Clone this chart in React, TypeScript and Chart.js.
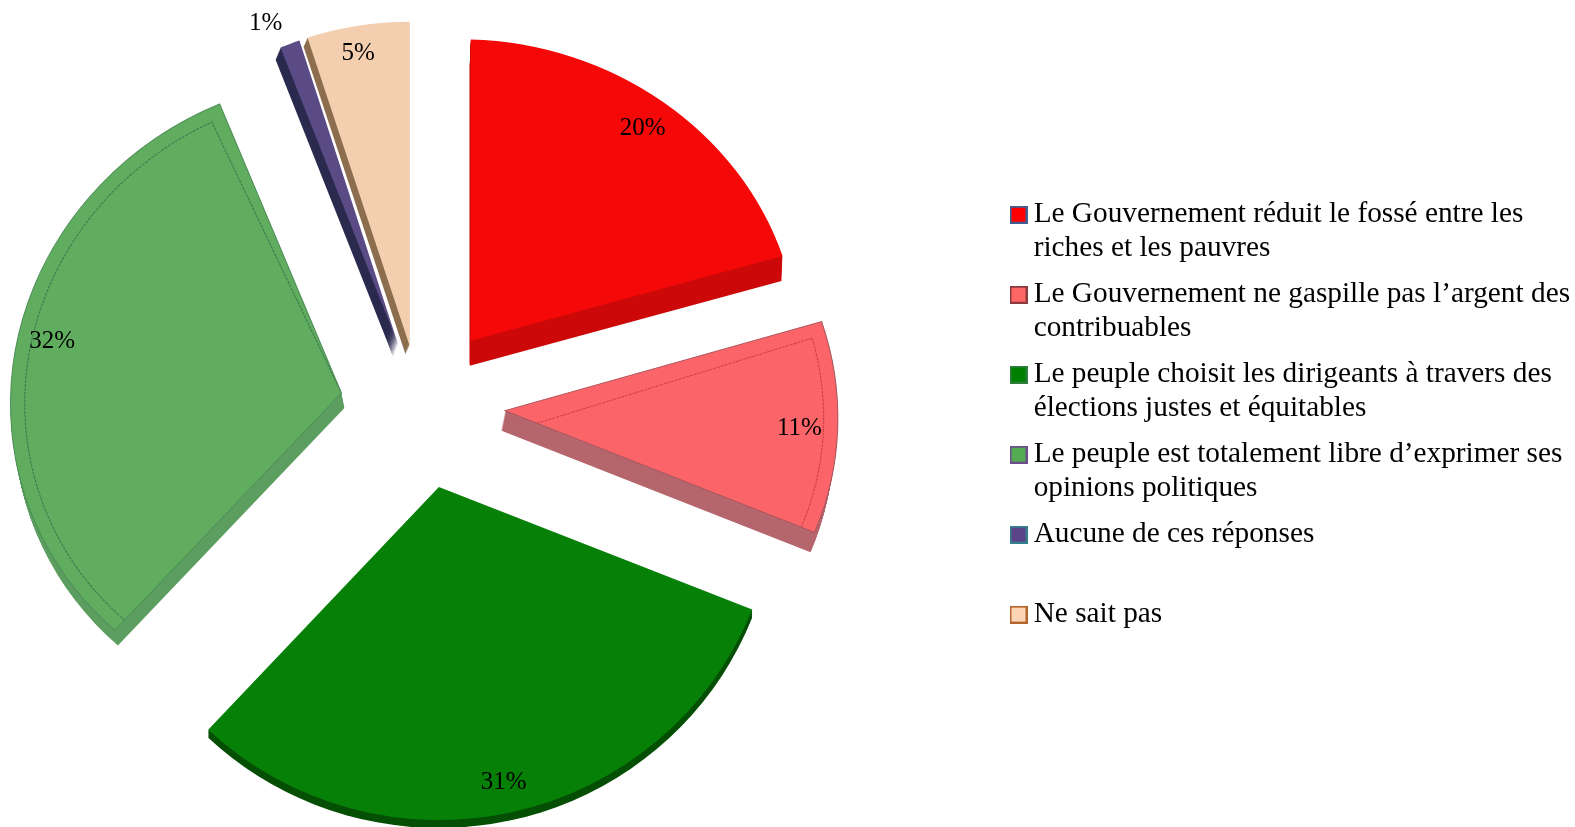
import React, { useEffect, useRef } from "react";
import { ArcElement, Chart, registerables } from "chart.js";

Chart.register(...registerables);

const categories: string[][] = [
  ["Le Gouvernement réduit le fossé entre les", "riches et les pauvres"],
  ["Le Gouvernement ne gaspille pas l’argent des", "contribuables"],
  ["Le peuple choisit les dirigeants à travers des", "élections justes et équitables"],
  ["Le peuple est totalement libre d’exprimer ses", "opinions politiques"],
  ["Aucune de ces réponses", ""],
  ["Ne sait pas", ""],
];
const values = [20, 11, 31, 32, 1, 5];
const percentLabels = ["20%", "11%", "31%", "32%", "1%", "5%"];

const faceColors = ["#F40808", "#FB6468", "#078007", "#60AD60", "#5A4A85", "#F3CFB0"];
const sideColors = ["#CC0808", "#B5666C", "#054F05", "#5C9E5F", "#2A2A4E", "#8C6E4E"];
const legendFill = ["#FF0000", "#FF6666", "#008000", "#54AB54", "#5B4588", "#FBD5B5"];
const legendEdge = ["#3F5F95", "#8C3A3E", "#2D7F3B", "#6B4E8B", "#357E8E", "#B3652D"];
const explode = [83, 83, 82, 80, 67, 60];
const sliceRadius = [314, 328, 333, 326, 320, 324];
const nudgeX = [3, 3, 2, 1, 2, 0];
const nudgeY = [3, 3, 2, 3, 3, 0];
const perspectiveX = [1.044, 1.015, 1.012, 1.015, 1, 1.02];
const perspectiveY = [0.96, 0.95, 1, 0.967, 1, 1];
const perspectiveShear = [0.028, 0.023, 0, -0.034, 0, 0];
const extrudeX = [-1, -4, 0, 3, -5, -4];
const extrudeY = [25, 20, 8, 15, 12, 9];
const insetBand = [0, 14, 0, 14, 0, 0];
const labelAngle = [39, 93.4, 167.6, 280.2, 337.6, 350];
const labelRadius = [273, 295, 302, 294, 348, 297];
const pieCenterX = 419;
const pieCenterY = 405;

const deg = Math.PI / 180;

function applyPerspective(ctx: CanvasRenderingContext2D, a: any, i: number) {
  ctx.translate(a.x, a.y);
  ctx.transform(perspectiveX[i], perspectiveShear[i], 0, perspectiveY[i], 0, 0);
  ctx.translate(-a.x, -a.y);
}

const piePlugin = {
  id: "pie3d",
  afterDatasetsUpdate(chart: any) {
    chart.getDatasetMeta(0).data.forEach((a: any, i: number) => {
      const mid = (a.startAngle + a.endAngle) / 2;
      a.x = pieCenterX + Math.cos(mid) * explode[i] + nudgeX[i];
      a.y = pieCenterY + Math.sin(mid) * explode[i] + nudgeY[i];
      a.outerRadius = sliceRadius[i];
      a.draw = (ctx: CanvasRenderingContext2D) => {
        ctx.save();
        applyPerspective(ctx, a, i);
        ArcElement.prototype.draw.call(a, ctx);
        ctx.restore();
      };
    });
  },
  afterLayout(chart: any) {
    const l = chart.legend;
    if (l) {
      l.left = 1005;
      l.top += 20;
      l.bottom += 20;
    }
  },
  beforeDatasetsDraw(chart: any) {
    const ctx = chart.ctx;
    chart.getDatasetMeta(0).data.forEach((a: any, i: number) => {
      const n = Math.max(Math.abs(extrudeX[i]), Math.abs(extrudeY[i]));
      ctx.fillStyle = sideColors[i];
      for (let s = 1; s <= n; s++) {
        ctx.save();
        ctx.translate((extrudeX[i] * s) / n, (extrudeY[i] * s) / n);
        applyPerspective(ctx, a, i);
        ctx.beginPath();
        ctx.moveTo(a.x, a.y);
        ctx.arc(a.x, a.y, a.outerRadius, a.startAngle, a.endAngle);
        ctx.closePath();
        ctx.fill();
        ctx.restore();
      }
    });
  },
  afterDatasetsDraw(chart: any) {
    const ctx = chart.ctx;
    chart.getDatasetMeta(0).data.forEach((a: any, i: number) => {
      if (insetBand[i] > 0) {
        const b = insetBand[i];
        const r = a.outerRadius - b;
        const da = Math.asin(Math.min(1, b / r));
        ctx.save();
        applyPerspective(ctx, a, i);
        ctx.strokeStyle = i === 1 ? "rgba(190,50,60,0.75)" : "rgba(50,100,70,0.75)";
        ctx.lineWidth = 1;
        ctx.setLineDash([3, 1]);
        ctx.beginPath();
        if (i === 1) {
          const s = a.startAngle + da;
          ctx.moveTo(a.x + Math.cos(a.endAngle) * 34, a.y + Math.sin(a.endAngle) * 34);
          ctx.lineTo(a.x + Math.cos(s) * r, a.y + Math.sin(s) * r);
          ctx.arc(a.x, a.y, r, s, a.endAngle);
        } else {
          ctx.arc(a.x, a.y, r, a.startAngle, a.endAngle - da);
          ctx.lineTo(a.x, a.y);
        }
        ctx.stroke();
        ctx.setLineDash([]);
        ctx.strokeStyle = i === 1 ? "#A8565C" : "#4F8F58";
        ctx.beginPath();
        ctx.moveTo(a.x, a.y);
        ctx.arc(a.x, a.y, a.outerRadius, a.startAngle, a.endAngle);
        ctx.closePath();
        ctx.stroke();
        ctx.restore();
      }
      const t = labelAngle[i] * deg - Math.PI / 2;
      ctx.save();
      ctx.font = '25px "Liberation Serif"';
      ctx.fillStyle = "#000";
      ctx.textAlign = "center";
      ctx.textBaseline = "middle";
      ctx.fillText(
        percentLabels[i],
        a.x + Math.cos(t) * labelRadius[i],
        a.y + Math.sin(t) * labelRadius[i]
      );
      ctx.restore();
    });
  },
};

function swatch(i: number) {
  const c = document.createElement("canvas");
  c.width = 18;
  c.height = 18;
  const g = c.getContext("2d")!;
  g.fillStyle = legendEdge[i];
  g.fillRect(0, 0, 18, 18);
  g.fillStyle = legendFill[i];
  g.fillRect(2, 2, 14, 14);
  return c;
}

export default function App() {
  const ref = useRef<HTMLCanvasElement>(null);
  useEffect(() => {
    const chart = new Chart(ref.current!, {
      type: "pie",
      data: {
        labels: categories.map((c) => c.join(" ").trim()),
        datasets: [
          {
            data: values,
            backgroundColor: faceColors,
            borderWidth: 0,
            hoverOffset: 0,
          },
        ],
      },
      options: {
        responsive: false,
        animation: false,
        layout: { padding: 0 },
        plugins: {
          tooltip: { enabled: false },
          title: { display: false },
          legend: {
            display: true,
            position: "right",
            align: "center",
            labels: {
              usePointStyle: true,
              pointStyleWidth: 1,
              padding: 13,
              color: "#000",
              font: { family: '"Liberation Serif"', size: 29.3, lineHeight: 1.143 },
              generateLabels: () =>
                categories.map((text, i) => ({
                  text,
                  index: i,
                  pointStyle: swatch(i),
                  fontColor: "#000",
                  hidden: false,
                })),
            },
          },
        },
      } as any,
      plugins: [piePlugin],
    } as any);
    return () => chart.destroy();
  }, []);
  return (
    <canvas
      ref={ref}
      width={1575}
      height={827}
      style={{ position: "fixed", left: 0, top: 0, display: "block" }}
    />
  );
}
